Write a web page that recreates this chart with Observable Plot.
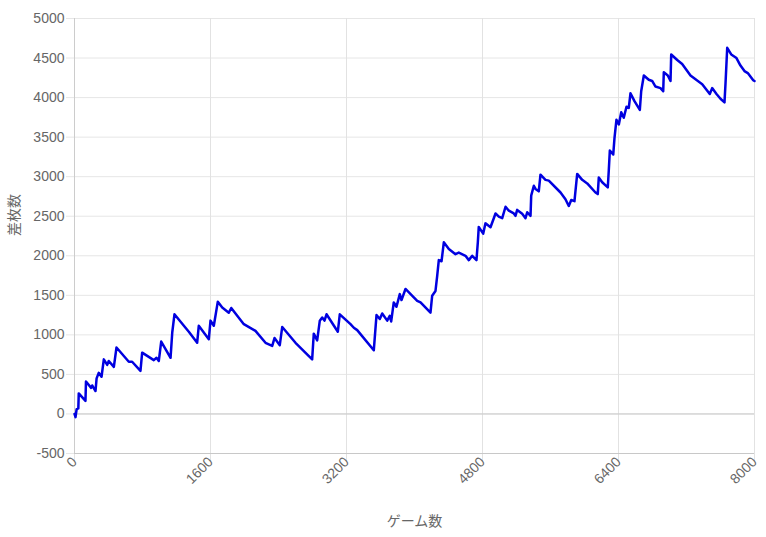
<!DOCTYPE html>
<html>
<head>
<meta charset="utf-8">
<script src="https://cdn.jsdelivr.net/npm/d3@7"></script>
<script src="https://cdn.jsdelivr.net/npm/@observablehq/plot@0.6"></script>
<style>
  html, body { margin: 0; padding: 0; background: #fff; }
  #chart svg { display: block; }
</style>
</head>
<body>
<div id="chart"></div>
<script>
const games = [0,12,25,45,50,129,135,196,208,247,260,285,318,345,385,403,463,494,639,678,776,796,933,965,992,1020,1071,1130,1150,1176,1306,1345,1443,1462,1580,
  1600,1639,1686,1738,1815,1844,1992,2129,2247,2326,2353,2415,2444,2600,2796,2815,2855,2886,2914,2941,2965,3098,3121,3247,3286,3326,3521,
  3553,3592,3620,3679,3709,3726,3756,3788,3827,3847,3894,4032,4071,4188,4208,4247,4267,4286,4318,4345,4404,4482,4521,4600,4639,4679,4729,
  4745,4756,4808,4835,4894,4933,4953,4992,5032,5071,5110,5168,5188,5208,5267,5306,5326,5365,5373,5404,5424,5462,5482,5541,5580,5718,5776,
  5815,5844,5882,5914,5973,6032,6129,6156,6168,6208,6274,6286,6298,6338,6353,6376,6404,6432,6462,6494,6521,6541,6588,6651,6667,6698,6756,
  6796,6835,6894,6926,6933,6980,7012,7020,7091,7149,7247,7326,7385,7474,7502,7553,7600,7647,7659,7679,7726,7788,7835,7882,7921,7985,8000];
const diffs = [0,-40,60,70,260,165,410,330,360,290,450,520,470,690,620,670,595,840,660,660,545,775,680,710,670,915,820,710,1030,1260,1090,1040,900,1115,945,
  1180,1115,1420,1345,1280,1340,1135,1050,900,860,960,870,1100,900,690,1015,930,1180,1220,1180,1260,1040,1260,1135,1090,1060,805,
  1250,1200,1270,1180,1240,1170,1410,1355,1515,1440,1580,1430,1410,1280,1495,1555,1745,1945,1930,2170,2085,2020,2040,2000,1945,2000,1945,
  2170,2365,2280,2410,2360,2475,2535,2495,2475,2620,2570,2535,2505,2580,2530,2475,2550,2505,2760,2885,2845,2815,3025,2960,2950,2800,2715,
  2630,2705,2690,3035,2960,2915,2800,2780,2990,2930,2865,3085,3330,3280,3490,3720,3660,3815,3745,3885,3870,4055,3955,3845,4080,4280,4225,
  4210,4140,4120,4080,4320,4280,4210,4545,4475,4425,4280,4215,4170,4045,4120,4045,3985,3940,4180,4630,4545,4500,4405,4335,4310,4220,4210];
const xTicks = [0, 1600, 3200, 4800, 6400, 8000];
const yTicks = [-500, 0, 500, 1000, 1500, 2000, 2500, 3000, 3500, 4000, 4500, 5000];
const xTitle = "ゲーム数";
const yTitle = "差枚数";

const rows = games.map((g, i) => ({game: g, diff: diffs[i]}));
const font = "'Liberation Sans', Arial, 'Noto Sans CJK JP', sans-serif";
const plain = d => String(d);

const chart = Plot.plot({
  width: 766,
  height: 537,
  marginLeft: 74,
  marginRight: 12,
  marginTop: 18,
  marginBottom: 84,
  style: {fontFamily: font, fontSize: "14px", color: "#666", background: "#fff"},
  x: {domain: [0, 8000]},
  y: {domain: [-500, 5000]},
  marks: [
    Plot.gridY(yTicks, {stroke: "#e6e6e6", strokeOpacity: 1, insetLeft: -8}),
    Plot.gridX(xTicks, {stroke: "#e2e2e2", strokeOpacity: 1, insetBottom: -8}),
    Plot.ruleY([0, -500], {stroke: "#c8c8c8"}),
    Plot.ruleX([0], {stroke: "#cccccc"}),
    Plot.axisY(yTicks, {tickSize: 0, tickPadding: 10, tickFormat: plain, fill: "#666", fontSize: 14, label: null}),
    Plot.axisX(xTicks, {tickSize: 0, tickPadding: 6, tickRotate: -45, tickFormat: plain, fill: "#666", fontSize: 14, label: null}),
    Plot.line(rows, {x: "game", y: "diff", stroke: "#0000e0", strokeWidth: 2.5, strokeLinejoin: "round"}),
    Plot.text([xTitle], {frameAnchor: "bottom", dy: 72, fill: "#666", fontSize: 14}),
    Plot.text([yTitle], {frameAnchor: "left", dx: -60, rotate: -90, fill: "#666", fontSize: 14})
  ]
});
document.getElementById("chart").appendChild(chart);
</script>
</body>
</html>
